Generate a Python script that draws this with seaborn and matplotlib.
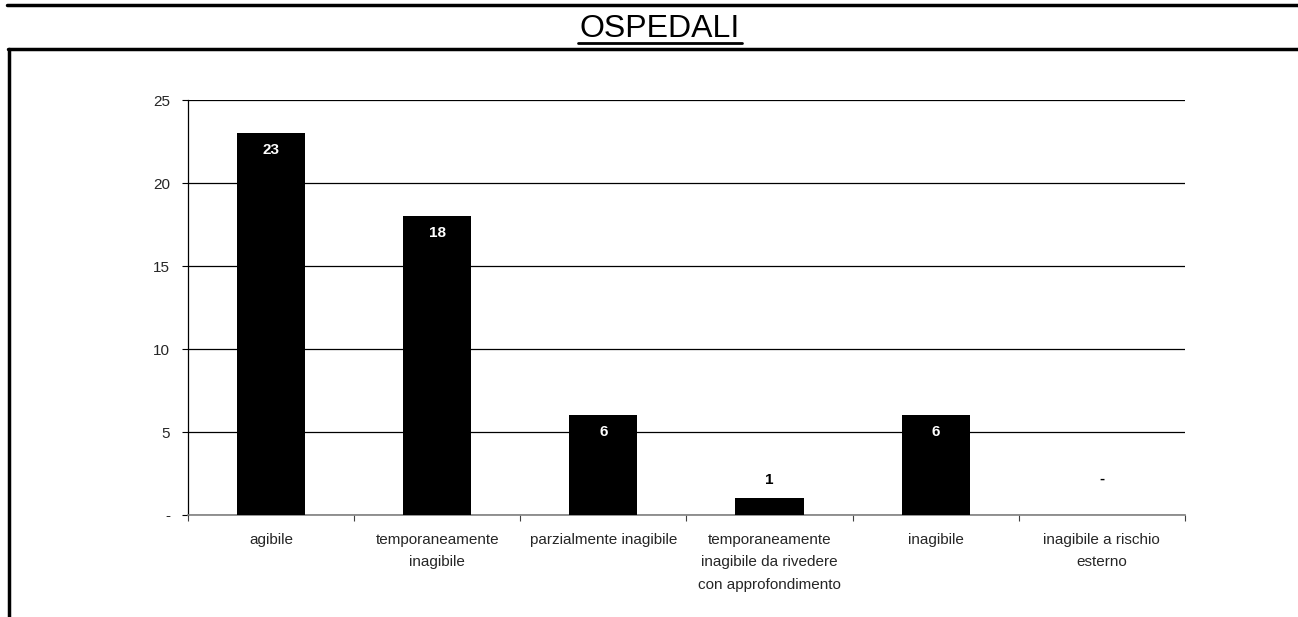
import matplotlib
matplotlib.use("Agg")
import matplotlib.pyplot as plt
from matplotlib.lines import Line2D
from matplotlib.ticker import FixedLocator, FuncFormatter
import seaborn as sns
import pandas as pd

# Esito delle verifiche di agibilità - ospedali
categorie = [
    "agibile",
    "temporaneamente\ninagibile",
    "parzialmente inagibile",
    "temporaneamente\ninagibile da rivedere\ncon approfondimento",
    "inagibile",
    "inagibile a rischio\nesterno",
]
numero_edifici = [23, 18, 6, 1, 6, 0]
y_ticks = [0, 5, 10, 15, 20, 25]
titolo = "OSPEDALI"

sns.set_style("white")
plt.rcParams["font.family"] = ["Liberation Sans", "DejaVu Sans"]

df = pd.DataFrame({"categoria": categorie, "edifici": numero_edifici})

fig = plt.figure(figsize=(12.98, 6.17), dpi=100)
ax = fig.add_axes([0.1448, 0.1653, 0.7681, 0.6726])

sns.barplot(data=df, x="categoria", y="edifici", color="black",
            saturation=1, width=0.41, ax=ax, zorder=3,
            edgecolor="black", linewidth=0)

ax.set_xlim(-0.5, len(categorie) - 0.5)
ax.set_ylim(0, 25)
ax.set_xlabel("")
ax.set_ylabel("")

# y axis: gridlines, "-" for zero
ax.yaxis.set_major_locator(FixedLocator(y_ticks))
ax.yaxis.set_major_formatter(FuncFormatter(lambda v, p: "-" if v == 0 else f"{int(v)}"))
ax.grid(axis="y", color="black", linewidth=0.9, zorder=0)
ax.set_axisbelow(True)
ax.tick_params(axis="y", direction="out", length=4, width=0.8, color="black",
               pad=9, labelsize=11, left=True)

# x axis: labels at bar centres, tick marks at category boundaries
ax.tick_params(axis="x", which="major", length=0, pad=13, labelsize=11)
ax.set_xticks(range(len(categorie)))
ax.set_xticklabels(categorie, linespacing=1.75)
ax.set_xticks([i - 0.5 for i in range(len(categorie) + 1)], minor=True)
ax.tick_params(axis="x", which="minor", direction="out", length=4, width=0.8,
               color="#404040", bottom=True)

for side in ("top", "right"):
    ax.spines[side].set_visible(False)
ax.spines["left"].set_color("black")
ax.spines["left"].set_linewidth(0.9)
ax.spines["bottom"].set_color("#808080")
ax.spines["bottom"].set_linewidth(1.2)

# value labels: white inside tall bars, black above short ones, "-" for zero
for patch, val in zip(ax.patches, numero_edifici):
    cx = patch.get_x() + patch.get_width() / 2
    top = patch.get_height()
    if val >= 3:
        ax.annotate(f"{val}", (cx, top), xytext=(0, -12), textcoords="offset points",
                    ha="center", va="center", color="white", fontsize=11,
                    fontweight="bold", zorder=5)
    else:
        ax.annotate("-" if val == 0 else f"{val}", (cx, top), xytext=(0, 13 if val else 26),
                    textcoords="offset points", ha="center", va="center",
                    color="black", fontsize=11, fontweight="bold", zorder=5)

# heading and page frame
fig.text(660 / 1298, 1 - 29 / 617, titolo, ha="center", va="center", fontsize=23,
         color="black")
fig.add_artist(Line2D([578 / 1298, 742 / 1298], [1 - 43 / 617] * 2,
                      color="black", linewidth=2))
fig.add_artist(Line2D([7 / 1298, 1.0], [1 - 5 / 617] * 2, color="black", linewidth=2.5))
fig.add_artist(Line2D([8 / 1298, 1.0], [1 - 49 / 617] * 2, color="black", linewidth=2.5))
fig.add_artist(Line2D([9 / 1298] * 2, [0.0, 1 - 49 / 617], color="black", linewidth=2.5))

fig.savefig("out.png", dpi=100)
